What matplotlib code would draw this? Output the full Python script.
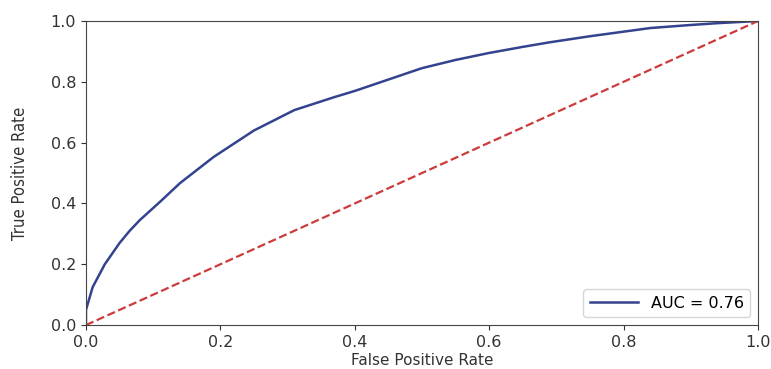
import numpy as np
import matplotlib.pyplot as plt

# точки ROC-кривой
fpr = [0.0, 0.0, 0.01, 0.028, 0.05, 0.065, 0.08, 0.11, 0.14, 0.19, 0.25, 0.31,
       0.37, 0.4, 0.44, 0.5, 0.55, 0.6, 0.65, 0.69, 0.75, 0.8, 0.84, 0.9, 0.94, 1.0]
tpr = [0.0, 0.05, 0.125, 0.2, 0.27, 0.31, 0.345, 0.405, 0.467, 0.553, 0.64, 0.707,
       0.75, 0.77, 0.80, 0.845, 0.872, 0.895, 0.915, 0.93, 0.95, 0.965, 0.977, 0.987,
       0.993, 1.0]
diag = [0.0, 1.0]
auc_label = 'AUC = 0.76'

fig = plt.figure(figsize=(7.71, 3.69), dpi=100)
ax = fig.add_axes([0.1115, 0.119, 0.8715, 0.824])
ax.plot(fpr, tpr, color='#34438f', linewidth=1.8, label=auc_label)
ax.plot(diag, diag, color='#cc3b3b', linestyle='--', linewidth=1.6)
ax.set_xlim(0, 1)
ax.set_ylim(0, 1)
ax.tick_params(labelsize=11.5, colors='#333333')
for s in ax.spines.values():
    s.set_color('#444444')
ax.set_xlabel('False Positive Rate', fontsize=11, labelpad=2, color='#333333')
ax.set_ylabel('True Positive Rate', fontsize=12, fontstretch='condensed',
              labelpad=16, color='#333333')
ax.legend(loc='lower right', fontsize=11.5, handlelength=3)
fig.savefig('out.png', dpi=100)
